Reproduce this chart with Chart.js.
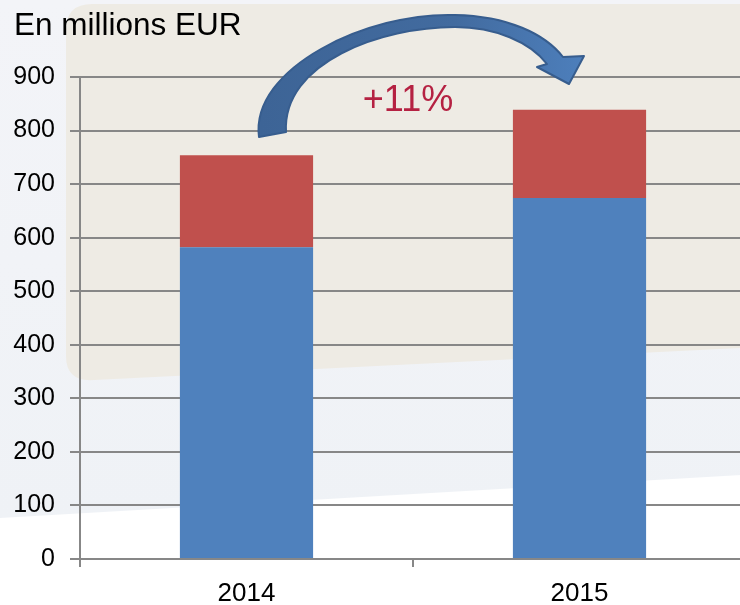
<!DOCTYPE html>
<html>
<head>
<meta charset="utf-8">
<script src="https://cdn.jsdelivr.net/npm/chart.js@4/dist/chart.umd.min.js"></script>
<style>
html,body{margin:0;padding:0;background:#fff;overflow:hidden;width:740px;height:605px;}
#wrap{position:absolute;left:0;top:0;width:750px;height:605px;}
</style>
</head>
<body>
<div id="wrap"><canvas id="c" width="750" height="605"></canvas></div>
<script>
const categories = ['2014', '2015'];
const seriesBlue = [582, 674];
const seriesRed = [172, 165];
const yTicks = [0, 100, 200, 300, 400, 500, 600, 700, 800, 900];
const titleText = 'En millions EUR';
const growthLabel = '+11%';

const FONT = '"Liberation Sans", Arial, sans-serif';
const GRID = '#878787';

const bgPlugin = {
  id: 'bg',
  beforeDraw(chart) {
    const ctx = chart.ctx;
    ctx.save();
    ctx.fillStyle = '#ffffff';
    ctx.fillRect(0, 0, chart.width, chart.height);
    const g = ctx.createLinearGradient(0, 0, 0, 520);
    g.addColorStop(0, '#f3f4f8');
    g.addColorStop(1, '#eff2f6');
    ctx.fillStyle = g;
    ctx.beginPath();
    ctx.moveTo(0, 0); ctx.lineTo(760, 0); ctx.lineTo(760, 474); ctx.lineTo(0, 518); ctx.closePath();
    ctx.fill();
    const r = 26;
    ctx.fillStyle = '#eeebe4';
    ctx.beginPath();
    ctx.moveTo(66 + r, 4);
    ctx.lineTo(760, 4);
    ctx.lineTo(760, 347);
    ctx.lineTo(94, 380);
    ctx.quadraticCurveTo(66, 382, 66, 356);
    ctx.lineTo(66, 4 + r);
    ctx.quadraticCurveTo(66, 4, 66 + r, 4);
    ctx.closePath();
    ctx.fill();
    ctx.fillStyle = '#000';
    ctx.font = '31.5px ' + FONT;
    ctx.textAlign = 'left';
    ctx.textBaseline = 'alphabetic';
    ctx.fillText(titleText, 14, 35);
    ctx.restore();
  },
  afterDraw(chart) {
    const ctx = chart.ctx;
    ctx.save();
    const g = ctx.createLinearGradient(260, 0, 585, 0);
    g.addColorStop(0, '#3d6496');
    g.addColorStop(0.6, '#426b9f');
    g.addColorStop(1, '#4d7fbc');
    ctx.fillStyle = g;
    ctx.strokeStyle = '#375d8e';
    ctx.lineWidth = 2;
    ctx.lineJoin = 'round';
    ctx.beginPath();
    ctx.moveTo(259, 137);
    ctx.bezierCurveTo(250, 68, 368, 12, 455, 15);
    ctx.bezierCurveTo(508, 16, 545, 34, 563, 57);
    ctx.lineTo(584, 56);
    ctx.lineTo(569, 84);
    ctx.lineTo(537, 67);
    ctx.lineTo(547, 64);
    ctx.bezierCurveTo(530, 42, 495, 27, 455, 27);
    ctx.bezierCurveTo(382, 27, 282, 62, 286, 132);
    ctx.closePath();
    ctx.fill();
    ctx.stroke();
    ctx.fillStyle = '#b52142';
    ctx.font = '36px ' + FONT;
    ctx.textAlign = 'center';
    ctx.textBaseline = 'alphabetic';
    ctx.fillText(growthLabel, 408, 111);
    ctx.restore();
  }
};

new Chart(document.getElementById('c'), {
  type: 'bar',
  data: {
    labels: categories,
    datasets: [
      { data: seriesBlue, backgroundColor: '#4f81bd', borderWidth: 0 },
      { data: seriesRed, backgroundColor: '#c0504d', borderWidth: 0 }
    ]
  },
  options: {
    responsive: false,
    devicePixelRatio: 1,
    animation: false,
    layout: { padding: { top: 77, right: 4, left: 0, bottom: 0 } },
    datasets: { bar: { barPercentage: 0.4, categoryPercentage: 1 } },
    plugins: { legend: { display: false }, tooltip: { enabled: false }, title: { display: false } },
    scales: {
      x: {
        stacked: true,
        offset: true,
        grid: { display: true, drawOnChartArea: false, offset: true, tickLength: 8, color: GRID, lineWidth: 2 },
        border: { display: true, color: GRID, width: 2 },
        ticks: { color: '#000', font: { family: FONT, size: 26 }, padding: 11 },
        afterFit(s) { s.height = 46; }
      },
      y: {
        stacked: true,
        min: 0,
        max: 900,
        afterBuildTicks(s) { s.ticks = yTicks.map(v => ({ value: v })); },
        grid: { color: GRID, lineWidth: 2, tickLength: 10 },
        border: { display: true, color: GRID, width: 2 },
        ticks: { color: '#000', font: { family: FONT, size: 25 }, padding: 15 },
        afterFit(s) { s.width = 80; }
      }
    }
  },
  plugins: [bgPlugin]
});
</script>
</body>
</html>
